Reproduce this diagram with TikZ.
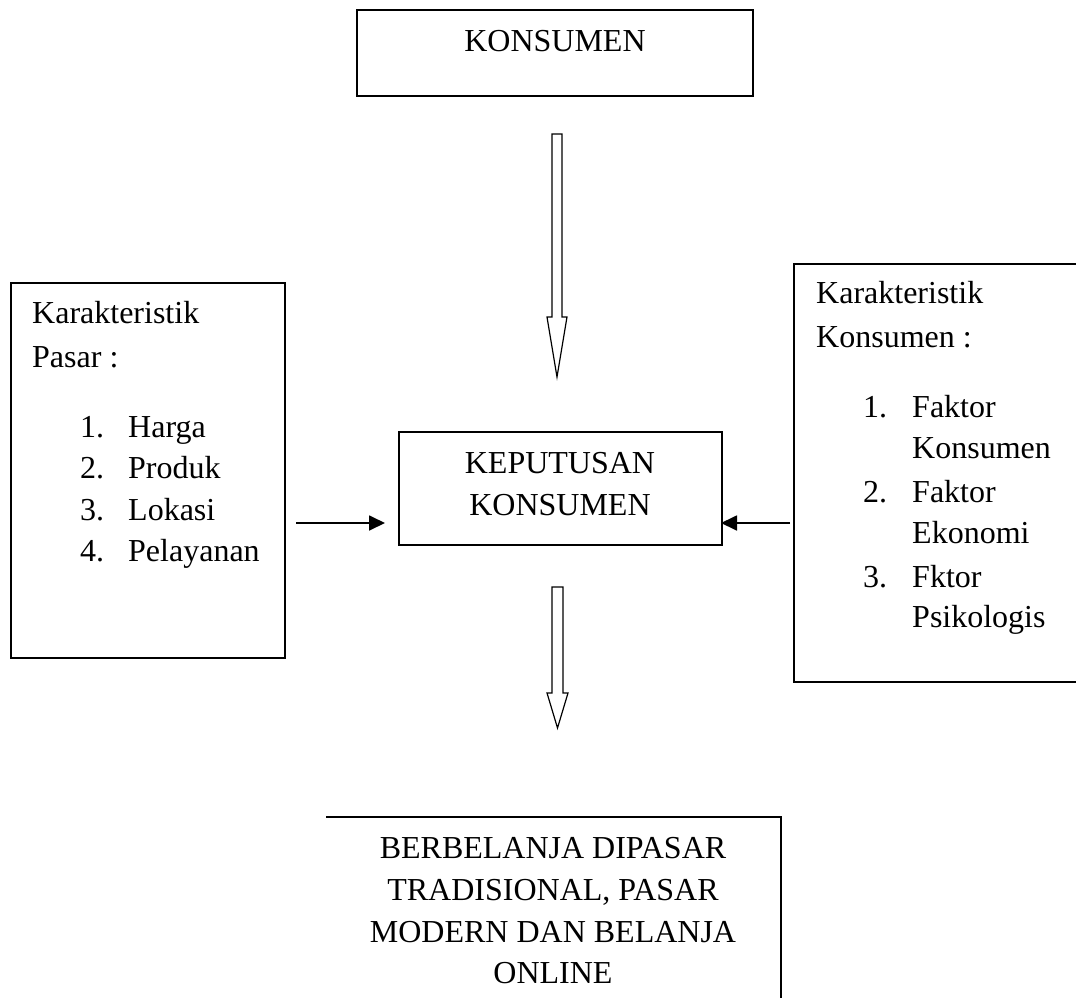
\documentclass[tikz,border=0pt]{standalone}
\usepackage{fontspec}
\setmainfont{Liberation Serif}
\usetikzlibrary{arrows.meta}
\begin{document}
\begin{tikzpicture}[x=1pt,y=-1pt,
  box/.style={draw,line width=1.4pt,inner sep=0pt,rectangle},
  txt/.style={anchor=base west,inner sep=0pt,font=\fontsize{32}{41.5}\selectfont},
  ctxt/.style={anchor=base,inner sep=0pt,font=\fontsize{32}{41.5}\selectfont},
  hollow/.style={draw,line width=1.2pt,line join=miter},
  smallarrow/.style={line width=1.8pt,-{Triangle[length=16pt,width=15pt]}}]
\useasboundingbox (0,0) rectangle (1076,998);
% top box
\node[box,minimum width=396pt,minimum height=86pt] (kons) at (555,53) {};
\node[ctxt] (konst) at (555,52) {KONSUMEN};
% middle box
\node[box,minimum width=323pt,minimum height=113pt] (kep) at (560.5,488.5) {};
\node[ctxt] (kep1) at (560,473) {KEPUTUSAN};
\node[ctxt] (kep2) at (560,515) {KONSUMEN};
% left box
\node[box,minimum width=274pt,minimum height=375pt] (pasar) at (148,470.5) {};
\node[txt] (p0) at (32,323) {Karakteristik};
\node[txt] (p1) at (32,367) {Pasar :};
\node[txt] (p2n) at (80,437) {1.};
\node[txt] (p2) at (128,437) {Harga};
\node[txt] (p3n) at (80,478) {2.};
\node[txt] (p3) at (128,478) {Produk};
\node[txt] (p4n) at (80,520) {3.};
\node[txt] (p4) at (128,520) {Lokasi};
\node[txt] (p5n) at (80,561) {4.};
\node[txt] (p5) at (128,561) {Pelayanan};
% right box (cut off at page edge)
\coordinate (rtl) at (1080,264);
\coordinate (rl1) at (794,264);
\coordinate (rl2) at (794,682);
\coordinate (rbl) at (1080,682);
\draw[line width=1.4pt] (rtl) -- (rl1) -- (rl2) -- (rbl);
\node[txt] (k0) at (816,303) {Karakteristik};
\node[txt] (k1) at (816,347) {Konsumen :};
\node[txt] (k2n) at (863,417) {1.};
\node[txt] (k2) at (912,417) {Faktor};
\node[txt] (k2b) at (912,458) {Konsumen};
\node[txt] (k3n) at (863,502) {2.};
\node[txt] (k3) at (912,502) {Faktor};
\node[txt] (k3b) at (912,543) {Ekonomi};
\node[txt] (k4n) at (863,587) {3.};
\node[txt] (k4) at (912,587) {Fktor};
\node[txt] (k4b) at (912,627) {Psikologis};
% bottom box (only top and right sides shown, cut at page bottom)
\coordinate (bl) at (326,817);
\coordinate (br) at (781,817);
\coordinate (brb) at (781,1002);
\draw[line width=1.4pt] (bl) -- (br) -- (brb);
\node[ctxt] (b1) at (553,858) {BERBELANJA DIPASAR};
\node[ctxt] (b2) at (553,900) {TRADISIONAL, PASAR};
\node[ctxt] (b3) at (553,942) {MODERN DAN BELANJA};
\node[ctxt] (b4) at (553,983) {ONLINE};
% small arrows
\coordinate (la) at (296,523);
\coordinate (lb) at (385,523);
\coordinate (ra) at (790,523);
\coordinate (rb) at (721,523);
\draw[smallarrow] (la) -- (lb);
\draw[smallarrow] (ra) -- (rb);
% hollow arrows
\draw[hollow] (552,134) -- (562,134) -- (562,317) -- (567,317) -- (557,377) -- (547,317) -- (552,317) -- cycle;
\draw[hollow] (552,587) -- (563,587) -- (563,693) -- (568,693) -- (557.5,728) -- (547,693) -- (552,693) -- cycle;
\end{tikzpicture}
\end{document}
